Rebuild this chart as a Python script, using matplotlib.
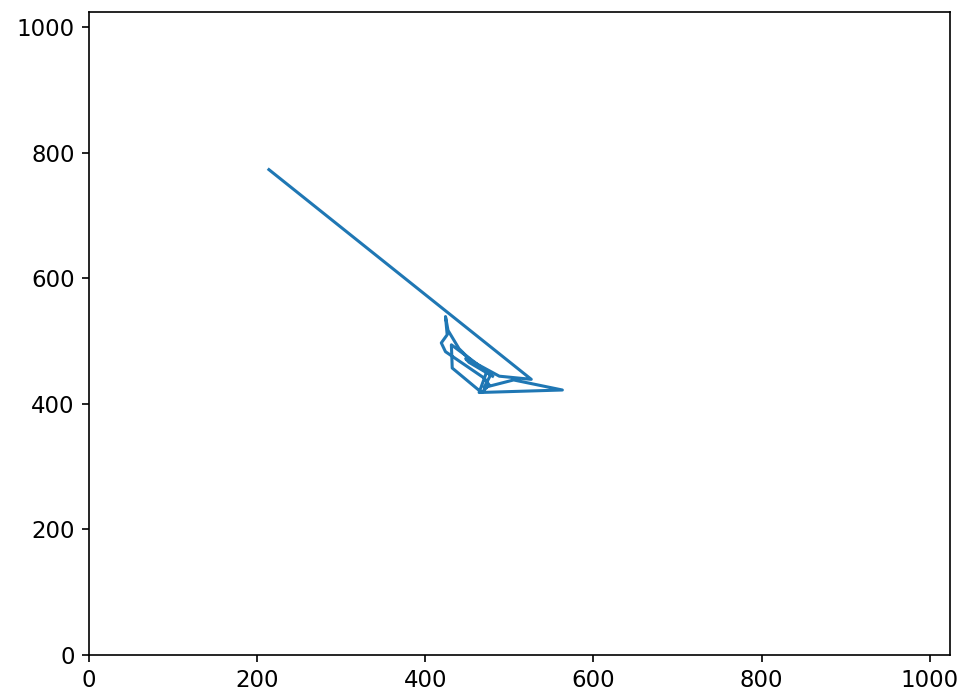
import matplotlib
matplotlib.use("Agg")
import matplotlib.pyplot as plt

x_vals = [214, 526, 488, 455, 440, 427, 424, 426, 419, 424, 470, 476, 467, 432, 431, 458, 473, 464, 563, 505, 470, 478, 448, 452, 480]
y_vals = [773, 439, 444, 468, 488, 517, 539, 510, 497, 483, 441, 430, 418, 457, 494, 467, 451, 418, 422, 438, 426, 447, 472, 466, 444]

fig = plt.figure(figsize=(9.63, 6.95), dpi=100)
ax = fig.add_axes([0.0924, 0.0576, 0.8941, 0.9251])
ax.plot(x_vals, y_vals, color="#1f77b4", linewidth=2.2)
ax.set_xlim(0, 1024)
ax.set_ylim(0, 1024)
ax.set_xticks([0, 200, 400, 600, 800, 1000])
ax.set_yticks([0, 200, 400, 600, 800, 1000])
ax.tick_params(labelsize=16.5, length=5.3, width=1.2, pad=5)
for s in ax.spines.values():
    s.set_linewidth(1.2)
fig.savefig("out.png", dpi=100)
